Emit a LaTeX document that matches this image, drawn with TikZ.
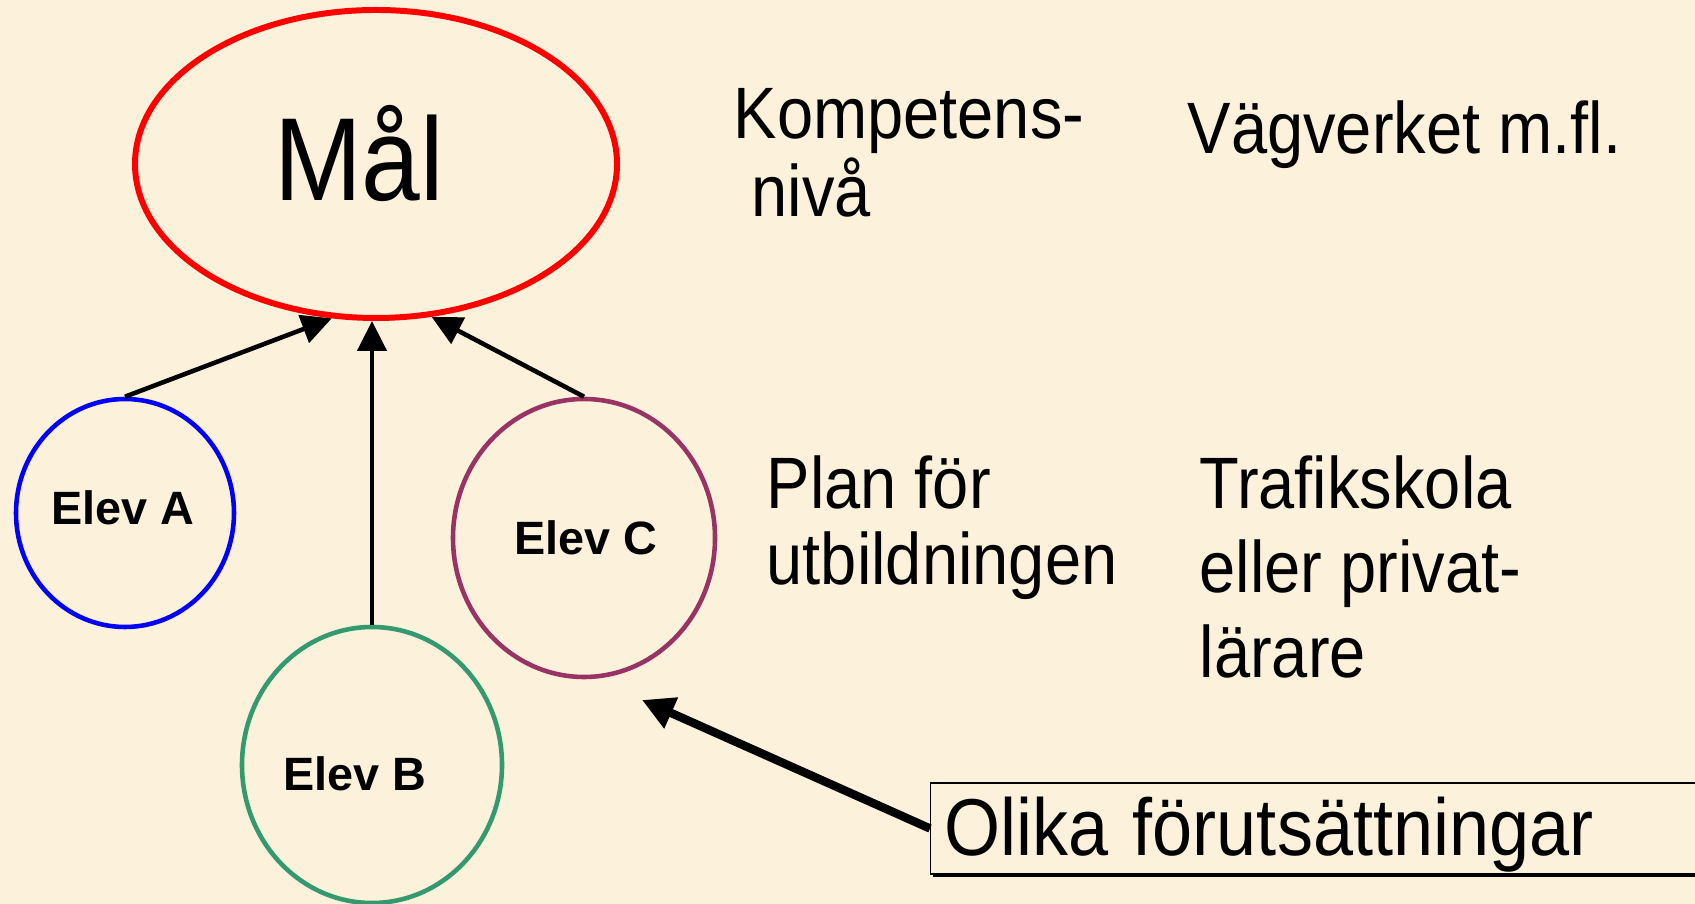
\documentclass[tikz,border=0pt]{standalone}
\usepackage{fontspec}
\setmainfont{Liberation Sans}
\usetikzlibrary{shapes.geometric,arrows.meta,shadows}
\definecolor{bakgrund}{RGB}{252,241,218}
\definecolor{elevgron}{RGB}{51,153,110}
\definecolor{elevlila}{RGB}{153,51,102}
\newcommand{\hog}[1]{\scalebox{1}[1.12]{#1}}

\begin{document}
\begin{tikzpicture}[
    elev/.style={ellipse, draw, line width=1.3pt, inner sep=0pt},
    elevtext/.style={font=\bfseries\fontsize{13.3}{16}\selectfont},
    etikett/.style={anchor=north west, align=left, inner sep=0pt,
      font=\fontsize{18.5}{21}\selectfont},
    pil/.style={-{Triangle[length=0.3cm,width=0.29cm]}, line width=1.3pt}
  ]
    \path[use as bounding box, fill=bakgrund] (0,0) rectangle (16.95,9.04);

    \node[ellipse, draw=red, line width=1.7pt, minimum width=4.82cm, minimum height=3.08cm,
      label={[font=\fontsize{30}{34}\selectfont, xshift=-0.17cm, yshift=0.11cm]center:\hog{Mål}}] (Mal) at (3.76, 7.40) {};
    \node[elev, draw=blue, minimum width=2.18cm, minimum height=2.28cm,
      label={[elevtext, xshift=-0.02cm, yshift=0.05cm]center:Elev A}] (A) at (1.25, 3.91) {};
    \node[elev, draw=elevgron, minimum width=2.60cm, minimum height=2.76cm,
      label={[elevtext, xshift=-0.17cm, yshift=-0.09cm]center:Elev B}] (B) at (3.72, 1.39) {};
    \node[elev, draw=elevlila, minimum width=2.62cm, minimum height=2.78cm,
      label={[elevtext, xshift=0.02cm]center:Elev C}] (C) at (5.84, 3.66) {};

    \node[etikett] (niva) at (7.33, 8.16) {\hog{Kompetens-}\\~\hog{nivå}};
    \node[etikett] (vagverket) at (11.87, 8.04) {\hog{Vägverket m.fl.}};
    \node[etikett, font=\fontsize{18.5}{21.5}\selectfont] (plan) at (7.66, 4.49) {\hog{Plan för}\\\hog{utbildningen}};
    \node[etikett, font=\fontsize{18.5}{24}\selectfont] (skola) at (11.99, 4.49) {\hog{Trafikskola}\\\hog{eller privat-}\\\hog{lärare}};

    \node[draw, fill=bakgrund, anchor=west, text width=7.9cm, align=left,
      inner xsep=0.14cm, inner ysep=0pt, minimum height=0.91cm,
      text height=0.62cm, text depth=0.08cm,
      drop shadow={shadow xshift=0.02cm, shadow yshift=-0.035cm, fill=black, opacity=1},
      font=\fontsize{20.5}{24}\selectfont] (olika) at (9.30, 0.755) {\hog{Olika förutsättningar}};
    \coordinate (olikamal) at (6.42, 2.04);

    % 矢印を引く
    \draw[pil] (A.north) -- (Mal.254);
    \draw[pil] (B.north) -- (B.north |- Mal.south);
    \draw[pil] (C.north) -- (Mal.290);
    \draw[-{Triangle[length=0.32cm,width=0.32cm]}, line width=2.4pt] (olika.west) -- (olikamal);
\end{tikzpicture}
\end{document}
